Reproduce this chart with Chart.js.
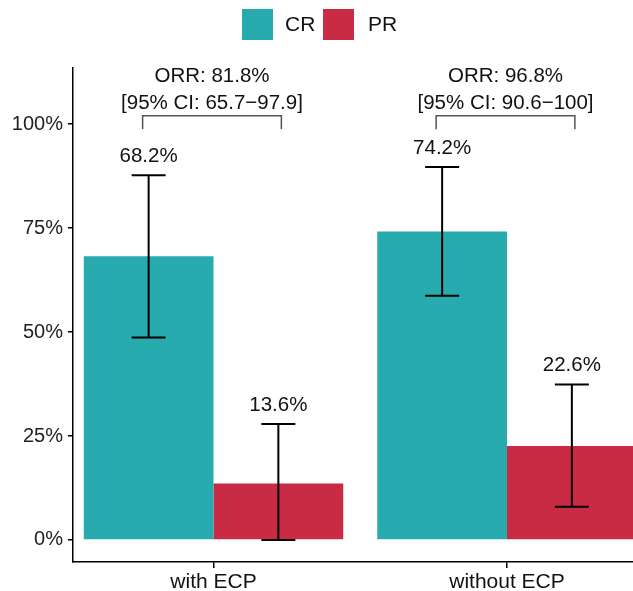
<!DOCTYPE html>
<html>
<head>
<meta charset="utf-8">
<script src="https://cdn.jsdelivr.net/npm/chart.js@4/dist/chart.umd.min.js"></script>
<style>
  html, body { margin: 0; padding: 0; background: #fff; overflow: hidden; }
  canvas { display: block; }
</style>
</head>
<body>
<canvas id="c" width="633" height="591"></canvas>
<script>
// ---- data ----
const categories = ['with ECP', 'without ECP'];
const seriesNames = ['CR', 'PR'];
const crValues = [68.2, 74.2];
const prValues = [13.6, 22.6];
const crLow = [48.7, 58.7];
const crHigh = [87.7, 89.7];
const prLow = [0.0, 8.0];
const prHigh = [27.9, 37.4];
const orrValues = [81.8, 96.8];
const orrCiLow = [65.7, 90.6];
const orrCiHigh = ['97.9', '100'];
const yTicks = [0, 25, 50, 75, 100];

const colors = ['#27ABAE', '#C92B45'];
const FONT = '"Liberation Sans", Arial, Helvetica, sans-serif';

const errLow = [crLow, prLow];
const errHigh = [crHigh, prHigh];
const values = [crValues, prValues];

const annotations = {
  id: 'annotations',
  afterDatasetsDraw(chart) {
    const ctx = chart.ctx;
    const y = chart.scales.y;
    ctx.save();
    // error bars + value labels
    chart.data.datasets.forEach((ds, di) => {
      const meta = chart.getDatasetMeta(di);
      meta.data.forEach((bar, i) => {
        const x = bar.x;
        const yl = y.getPixelForValue(errLow[di][i]);
        const yh = y.getPixelForValue(errHigh[di][i]);
        ctx.strokeStyle = '#000';
        ctx.lineWidth = 2;
        ctx.beginPath();
        ctx.moveTo(x, yl); ctx.lineTo(x, yh);
        ctx.moveTo(x - 17, yl); ctx.lineTo(x + 17, yl);
        ctx.moveTo(x - 17, yh); ctx.lineTo(x + 17, yh);
        ctx.stroke();
        ctx.fillStyle = '#111';
        ctx.font = '20.5px ' + FONT;
        ctx.textAlign = 'center';
        ctx.textBaseline = 'middle';
        ctx.fillText(values[di][i].toFixed(1) + '%', x, yh - 19);
      });
    });
    // brackets + ORR text
    const m0 = chart.getDatasetMeta(0), m1 = chart.getDatasetMeta(1);
    categories.forEach((c, i) => {
      const x1 = m0.data[i].x - 6;
      const x2 = m1.data[i].x + 3;
      const top = y.getPixelForValue(102.0);
      const leg = y.getPixelForValue(98.8);
      ctx.strokeStyle = '#555';
      ctx.lineWidth = 1.5;
      ctx.beginPath();
      ctx.moveTo(x1, leg); ctx.lineTo(x1, top); ctx.lineTo(x2, top); ctx.lineTo(x2, leg);
      ctx.stroke();
      const cx = (x1 + x2) / 2;
      ctx.fillStyle = '#111';
      ctx.font = '20.5px ' + FONT;
      ctx.textAlign = 'center';
      ctx.textBaseline = 'middle';
      ctx.fillText('ORR: ' + orrValues[i].toFixed(1) + '%', cx, top - 39);
      ctx.fillText('[95% CI: ' + orrCiLow[i].toFixed(1) + '\u2212' + orrCiHigh[i] + ']', cx, top - 12);
    });
    // legend
    const lx = [242, 323];
    const tx = [285, 368];
    chart.data.datasets.forEach((ds, di) => {
      ctx.fillStyle = ds.backgroundColor;
      ctx.fillRect(lx[di], 9, 31, 31);
      ctx.fillStyle = '#111';
      ctx.font = '21px ' + FONT;
      ctx.textAlign = 'left';
      ctx.textBaseline = 'middle';
      ctx.fillText(ds.label, tx[di], 25);
    });
    ctx.restore();
  }
};

new Chart(document.getElementById('c'), {
  type: 'bar',
  data: {
    datasets: seriesNames.map((name, di) => ({
      label: name,
      data: categories.map((c, i) => ({ x: i, y: values[di][i] })),
      backgroundColor: colors[di],
      borderWidth: 0,
      categoryPercentage: 0.884,
      barPercentage: 1.0
    }))
  },
  options: {
    responsive: false,
    animation: false,
    layout: { padding: { top: 68, left: 0, right: 0, bottom: 0 } },
    plugins: { legend: { display: false }, tooltip: { enabled: false } },
    scales: {
      x: {
        type: 'linear',
        offset: false,
        min: -0.4787,
        max: 1.4293,
        afterBuildTicks: s => { s.ticks = categories.map((c, i) => ({ value: i })); },
        afterFit: s => { s.height = 29; },
        grid: { offset: false, drawOnChartArea: false, drawTicks: true, tickLength: 6, color: '#000', lineWidth: 1.5 },
        border: { display: true, color: '#000', width: 1.5 },
        ticks: {
          autoSkip: false, maxRotation: 0, padding: 2,
          color: '#111', font: { family: FONT, size: 21 },
          callback: (v, i) => categories[i]
        }
      },
      y: {
        min: -5.3,
        max: 113.5,
        afterBuildTicks: s => { s.ticks = yTicks.map(v => ({ value: v })); },
        afterFit: s => { s.width = 73; },
        grid: { drawOnChartArea: false, drawTicks: true, tickLength: 5, color: '#000', lineWidth: 1.5 },
        border: { display: true, color: '#000', width: 1.5 },
        ticks: {
          padding: 5, color: '#222', font: { family: FONT, size: 20 },
          callback: v => v + '%'
        }
      }
    }
  },
  plugins: [annotations]
});
</script>
</body>
</html>
